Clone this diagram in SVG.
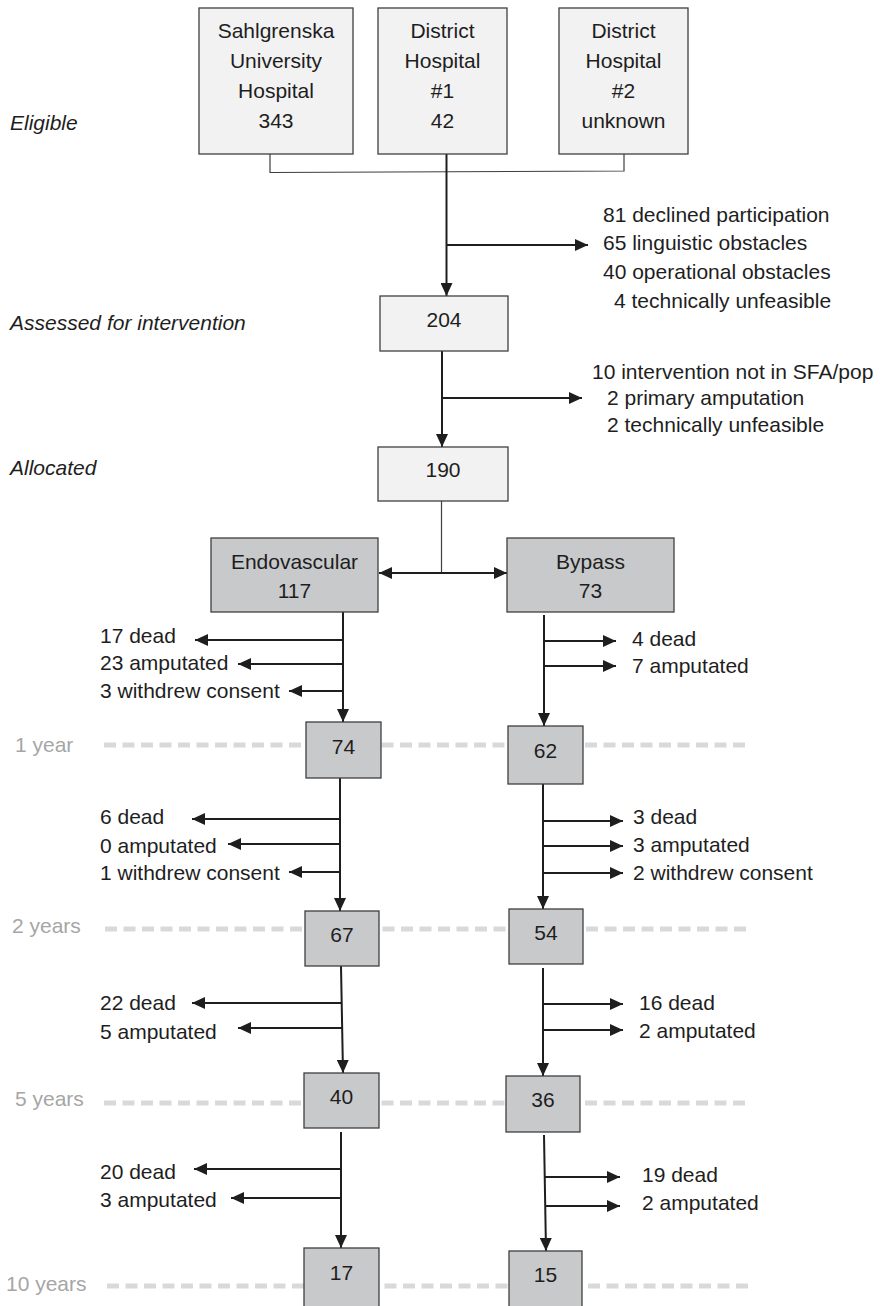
<svg xmlns="http://www.w3.org/2000/svg" width="890" height="1306" viewBox="0 0 890 1306">
<style>
text{font-family:"Liberation Sans",Arial,sans-serif;font-size:21px;fill:#1e1e1e}
.c{text-anchor:middle}
.it{font-style:italic}
.yr{fill:#a6a6a6}
.lt{fill:#f2f2f2;stroke:#3f3f3f;stroke-width:1.3}
.dk{fill:#c8c9cb;stroke:#3f3f3f;stroke-width:1.3}
.dash{stroke:#d9d9d9;stroke-width:5;stroke-dasharray:12 6.5;fill:none}
.ar{stroke:#1e1e1e;stroke-width:2;fill:none;marker-end:url(#ah)}
.thin{stroke:#3f3f3f;stroke-width:1.2;fill:none}
</style>
<defs>
<marker id="ah" markerWidth="13" markerHeight="12" refX="13" refY="6" orient="auto-start-reverse" markerUnits="userSpaceOnUse"><path d="M0,0 L13,6 L0,12 z" fill="#1e1e1e"/></marker>
</defs>
<rect width="890" height="1306" fill="#fff"/>
<g id="timelines">
<line class="dash" x1="104" y1="745" x2="749" y2="745"/>
<line class="dash" x1="105" y1="929" x2="749" y2="929"/>
<line class="dash" x1="104" y1="1103" x2="749" y2="1103"/>
<line class="dash" x1="107" y1="1286" x2="749" y2="1286"/>
<text class="yr" x="15" y="752">1 year</text>
<text class="yr" x="12" y="933">2 years</text>
<text class="yr" x="15" y="1106">5 years</text>
<text class="yr" x="6" y="1291">10 years</text>
</g>
<g id="stages">
<text class="it" x="10" y="130">Eligible</text>
<text class="it" x="10" y="330">Assessed for intervention</text>
<text class="it" x="10" y="475">Allocated</text>
</g>
<g id="connectors">
<polyline class="thin" points="270,154 270,172.5 624,171 624,154"/>
<line class="ar" x1="446.5" y1="154" x2="446.5" y2="296"/>
<line class="ar" x1="446.5" y1="245" x2="588" y2="245"/>
<line class="ar" x1="442" y1="351" x2="442" y2="447"/>
<line class="ar" x1="442" y1="398" x2="582" y2="398"/>
<line class="thin" x1="441.5" y1="501" x2="441.5" y2="573"/>
<line class="ar" x1="379" y1="573" x2="507" y2="573" style="marker-start:url(#ah)"/>
<line class="ar" x1="343" y1="612" x2="343" y2="722"/>
<line class="ar" x1="343" y1="640" x2="195" y2="640"/>
<line class="ar" x1="343" y1="664" x2="238" y2="664"/>
<line class="ar" x1="343" y1="691" x2="289" y2="691"/>
<line class="ar" x1="544" y1="615" x2="544" y2="726"/>
<line class="ar" x1="544" y1="641" x2="616" y2="641"/>
<line class="ar" x1="544" y1="666" x2="616" y2="666"/>
<line class="ar" x1="340" y1="778" x2="340" y2="911"/>
<line class="ar" x1="340" y1="819" x2="192" y2="819"/>
<line class="ar" x1="340" y1="844" x2="228" y2="844"/>
<line class="ar" x1="340" y1="872" x2="289" y2="872"/>
<line class="ar" x1="543" y1="784" x2="543" y2="909"/>
<line class="ar" x1="543" y1="821" x2="623" y2="821"/>
<line class="ar" x1="543" y1="846" x2="623" y2="846"/>
<line class="ar" x1="543" y1="873" x2="623" y2="873"/>
<line class="ar" x1="341" y1="966" x2="343" y2="1073"/>
<line class="ar" x1="342" y1="1003" x2="192" y2="1003"/>
<line class="ar" x1="342" y1="1028" x2="238" y2="1028"/>
<line class="ar" x1="543" y1="968" x2="543" y2="1076"/>
<line class="ar" x1="543" y1="1004" x2="623" y2="1004"/>
<line class="ar" x1="543" y1="1030" x2="623" y2="1030"/>
<line class="ar" x1="341" y1="1132" x2="341" y2="1248"/>
<line class="ar" x1="341" y1="1169" x2="194" y2="1169"/>
<line class="ar" x1="341" y1="1198" x2="231" y2="1198"/>
<line class="ar" x1="544" y1="1135" x2="546" y2="1251"/>
<line class="ar" x1="545" y1="1177" x2="620" y2="1177"/>
<line class="ar" x1="545" y1="1206" x2="620" y2="1206"/>
</g>
<g id="exclusions">
<text x="603" y="222">81 declined participation</text>
<text x="603" y="250">65 linguistic obstacles</text>
<text x="603" y="279">40 operational obstacles</text>
<text x="614" y="308">4 technically unfeasible</text>
<text x="592" y="379">10 intervention not in SFA/pop</text>
<text x="607" y="405">2 primary amputation</text>
<text x="607" y="432">2 technically unfeasible</text>
<text x="100" y="643">17 dead</text>
<text x="100" y="670">23 amputated</text>
<text x="100" y="698">3 withdrew consent</text>
<text x="632" y="646">4 dead</text>
<text x="632" y="673">7 amputated</text>
<text x="100" y="824">6 dead</text>
<text x="100" y="853">0 amputated</text>
<text x="100" y="880">1 withdrew consent</text>
<text x="633" y="824">3 dead</text>
<text x="633" y="852">3 amputated</text>
<text x="633" y="880">2 withdrew consent</text>
<text x="100" y="1010">22 dead</text>
<text x="100" y="1039">5 amputated</text>
<text x="639" y="1010">16 dead</text>
<text x="639" y="1038">2 amputated</text>
<text x="100" y="1179">20 dead</text>
<text x="100" y="1207">3 amputated</text>
<text x="642" y="1182">19 dead</text>
<text x="642" y="1210">2 amputated</text>
</g>
<g id="n_sahlgrenska"><rect class="lt" x="199" y="8" width="154" height="146"/>
<text class="c" x="276" y="38">Sahlgrenska</text><text class="c" x="276" y="68">University</text><text class="c" x="276" y="98">Hospital</text><text class="c" x="276" y="128">343</text></g>
<g id="n_district1"><rect class="lt" x="378" y="8" width="129" height="146"/>
<text class="c" x="442.5" y="38">District</text><text class="c" x="442.5" y="68">Hospital</text><text class="c" x="442.5" y="98">#1</text><text class="c" x="442.5" y="128">42</text></g>
<g id="n_district2"><rect class="lt" x="559" y="8" width="129" height="146"/>
<text class="c" x="623.5" y="38">District</text><text class="c" x="623.5" y="68">Hospital</text><text class="c" x="623.5" y="98">#2</text><text class="c" x="623.5" y="128">unknown</text></g>
<g id="n_204"><rect class="lt" x="380" y="296" width="128" height="55"/><text class="c" x="444" y="327">204</text></g>
<g id="n_190"><rect class="lt" x="378" y="447" width="130" height="54"/><text class="c" x="443" y="477">190</text></g>
<g id="n_endovascular"><rect class="dk" x="211" y="538" width="167" height="74"/>
<text class="c" x="294.5" y="569">Endovascular</text><text class="c" x="294.5" y="598">117</text></g>
<g id="n_bypass"><rect class="dk" x="507" y="538" width="167" height="74"/>
<text class="c" x="590.5" y="569">Bypass</text><text class="c" x="590.5" y="598">73</text></g>
<g id="n_endo_1y"><rect class="dk" x="306" y="722" width="75" height="56"/><text class="c" x="343.5" y="754">74</text></g>
<g id="n_bypass_1y"><rect class="dk" x="508" y="726" width="75" height="58"/><text class="c" x="545.5" y="758">62</text></g>
<g id="n_endo_2y"><rect class="dk" x="305" y="911" width="74" height="55"/><text class="c" x="342" y="942">67</text></g>
<g id="n_bypass_2y"><rect class="dk" x="509" y="909" width="74" height="55"/><text class="c" x="546" y="940">54</text></g>
<g id="n_endo_5y"><rect class="dk" x="304" y="1073" width="75" height="55"/><text class="c" x="341.5" y="1104">40</text></g>
<g id="n_bypass_5y"><rect class="dk" x="506" y="1076" width="74" height="56"/><text class="c" x="543" y="1107">36</text></g>
<g id="n_endo_10y"><rect class="dk" x="304" y="1248" width="75" height="62"/><text class="c" x="341.5" y="1280">17</text></g>
<g id="n_bypass_10y"><rect class="dk" x="509" y="1251" width="73" height="60"/><text class="c" x="545.5" y="1282">15</text></g>
</svg>
